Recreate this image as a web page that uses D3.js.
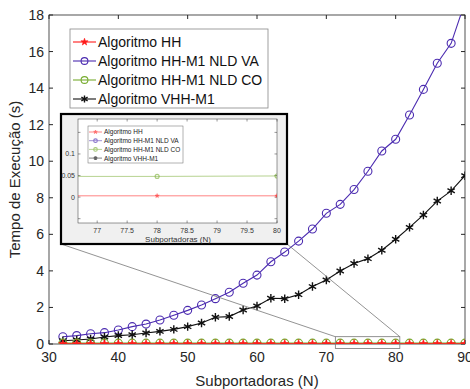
<!DOCTYPE html>
<html>
<head>
<meta charset="utf-8">
<script src="https://cdn.jsdelivr.net/npm/d3@7"></script>
<style>
  body { margin: 0; background: #fff; }
  svg { font-family: "Liberation Sans", Arial, sans-serif; }
</style>
</head>
<body>
<div id="chart"></div>
<script>
// subcarriers N = 32, 34, ..., 90
const subcarriers = [32,34,36,38,40,42,44,46,48,50,52,54,56,58,60,62,64,66,68,70,72,74,76,78,80,82,84,86,88,90];
const hhTime = [0.003,0.003,0.003,0.003,0.003,0.003,0.003,0.003,0.003,0.003,0.003,0.003,0.003,0.003,0.003,
  0.003,0.003,0.003,0.003,0.003,0.003,0.003,0.003,0.003,0.003,0.003,0.003,0.003,0.003,0.003];
const nldVaTime = [0.40,0.46,0.56,0.62,0.77,0.95,1.09,1.31,1.57,1.84,2.13,2.48,2.83,3.32,3.77,
  4.50,5.03,5.63,6.29,7.15,7.64,8.45,9.45,10.56,11.2,12.53,13.93,15.36,16.45,18.7];
const nldCoTime = [0.048,0.048,0.048,0.048,0.048,0.048,0.048,0.048,0.048,0.048,0.048,0.048,0.048,0.048,0.048,
  0.048,0.048,0.048,0.048,0.048,0.048,0.048,0.048,0.048,0.049,0.049,0.049,0.049,0.049,0.049];
const vhhTime = [0.18,0.22,0.27,0.38,0.46,0.51,0.60,0.69,0.80,0.95,1.15,1.46,1.50,1.86,2.08,
  2.50,2.48,2.70,3.14,3.50,3.99,4.41,4.67,5.13,5.73,6.38,7.06,7.82,8.38,9.21];

const xTicks = [30,40,50,60,70,80,90];
const yTicks = [0,2,4,6,8,10,12,14,16,18];
const insetXTicks = [77,77.5,78,78.5,79,79.5,80];
const insetYTicks = [-0.05,0,0.05,0.1,0.15];
const insetYLabels = [0,0.05,0.1];

const series = [
  { name: 'Algoritmo HH', values: hhTime, color: '#ff1a1a', marker: 'star' },
  { name: 'Algoritmo HH-M1 NLD VA', values: nldVaTime, color: '#4b2bb0', marker: 'circle' },
  { name: 'Algoritmo HH-M1 NLD CO', values: nldCoTime, color: '#77ac30', marker: 'circle' },
  { name: 'Algoritmo VHH-M1', values: vhhTime, color: '#111111', marker: 'asterisk' }
];
const drawOrder = [1, 3, 2, 0];

const width = 470, height = 389;
const margin = { top: 15, right: 4, bottom: 45, left: 49 };

const svg = d3.select('#chart').append('svg')
  .attr('width', width).attr('height', height);

const x = d3.scaleLinear().domain([30, 90]).range([margin.left, width - margin.right - 1]);
const y = d3.scaleLinear().domain([0, 18]).range([height - margin.bottom, margin.top]);

svg.append('defs').append('clipPath').attr('id', 'clipMain')
  .append('rect').attr('x', x(30)).attr('y', y(18))
  .attr('width', x(90) - x(30)).attr('height', y(0) - y(18));

function drawMarker(g, s, px, py, scale) {
  if (s.marker === 'circle') {
    g.append('circle').attr('cx', px).attr('cy', py).attr('r', 4 * scale)
      .attr('fill', 'none').attr('stroke', s.color).attr('stroke-width', 1.1);
  } else if (s.marker === 'star') {
    g.append('path').attr('transform', `translate(${px},${py})`)
      .attr('d', d3.symbol(d3.symbolStar, 22 * scale * scale)())
      .attr('fill', s.color).attr('stroke', s.color).attr('stroke-width', 0.6);
  } else {
    g.append('path').attr('transform', `translate(${px},${py})`)
      .attr('d', d3.symbol(d3.symbolAsterisk, 50 * scale * scale)())
      .attr('fill', 'none').attr('stroke', s.color).attr('stroke-width', 1.4);
  }
}

// axes box
const axisColor = '#262626';
svg.append('rect').attr('x', x(30)).attr('y', y(18))
  .attr('width', x(90) - x(30)).attr('height', y(0) - y(18))
  .attr('fill', 'none').attr('stroke', axisColor).attr('stroke-width', 0.8);

const tickLen = 4;
xTicks.forEach(t => {
  svg.append('line').attr('x1', x(t)).attr('x2', x(t)).attr('y1', y(0)).attr('y2', y(0) - tickLen).attr('stroke', axisColor);
  svg.append('line').attr('x1', x(t)).attr('x2', x(t)).attr('y1', y(18)).attr('y2', y(18) + tickLen).attr('stroke', axisColor);
  svg.append('text').attr('x', x(t)).attr('y', y(0) + 18).attr('text-anchor', 'middle')
    .attr('font-size', 14).attr('fill', axisColor).text(t);
});
yTicks.forEach(t => {
  svg.append('line').attr('x1', x(30)).attr('x2', x(30) + tickLen).attr('y1', y(t)).attr('y2', y(t)).attr('stroke', axisColor);
  svg.append('line').attr('x1', x(90)).attr('x2', x(90) - tickLen).attr('y1', y(t)).attr('y2', y(t)).attr('stroke', axisColor);
  svg.append('text').attr('x', x(30) - 5).attr('y', y(t) + 5).attr('text-anchor', 'end')
    .attr('font-size', 14).attr('fill', axisColor).text(t);
});

svg.append('text').attr('x', (x(30) + x(90)) / 2).attr('y', 386).attr('text-anchor', 'middle')
  .attr('font-size', 15).attr('fill', axisColor).text('Subportadoras (N)');
svg.append('text').attr('transform', `translate(20,${(y(0) + y(18)) / 2}) rotate(-90)`)
  .attr('text-anchor', 'middle').attr('font-size', 15).attr('fill', axisColor)
  .text('Tempo de Execução (s)');

// series
const plot = svg.append('g').attr('clip-path', 'url(#clipMain)');
const line = d3.line().x((d, i) => x(subcarriers[i])).y(d => y(d));
drawOrder.forEach(k => {
  const s = series[k];
  plot.append('path').attr('d', line(s.values)).attr('fill', 'none')
    .attr('stroke', s.color).attr('stroke-width', s.marker === 'star' ? 1.6 : 1.1);
  s.values.forEach((v, i) => drawMarker(plot, s, x(subcarriers[i]), y(v), 1));
});

// zoom rectangle and connecting lines
const zoomRect = { x0: 71.3, x1: 80.6, y0: -0.25, y1: 0.4 };
const inset = { left: 61, top: 114, right: 287, bottom: 244 };
svg.append('rect').attr('x', x(zoomRect.x0)).attr('y', y(zoomRect.y1))
  .attr('width', x(zoomRect.x1) - x(zoomRect.x0)).attr('height', y(zoomRect.y0) - y(zoomRect.y1))
  .attr('fill', 'none').attr('stroke', '#777').attr('stroke-width', 0.8);
svg.append('line').attr('x1', inset.left).attr('y1', inset.bottom)
  .attr('x2', x(zoomRect.x0)).attr('y2', y(zoomRect.y1)).attr('stroke', '#777').attr('stroke-width', 0.8);
svg.append('line').attr('x1', inset.right).attr('y1', inset.bottom)
  .attr('x2', x(zoomRect.x1)).attr('y2', y(zoomRect.y1)).attr('stroke', '#777').attr('stroke-width', 0.8);

// main legend
const lg = svg.append('g');
lg.append('rect').attr('x', 70).attr('y', 29).attr('width', 198).attr('height', 79)
  .attr('fill', '#fff').attr('stroke', '#888').attr('stroke-width', 0.8);
series.forEach((s, i) => {
  const ly = 42 + i * 19;
  lg.append('line').attr('x1', 73).attr('x2', 96).attr('y1', ly).attr('y2', ly)
    .attr('stroke', s.color).attr('stroke-width', 1.1);
  drawMarker(lg, s, 84.5, ly, 0.85);
  lg.append('text').attr('x', 98).attr('y', ly + 5).attr('font-size', 14).attr('fill', '#111').text(s.name);
});

// inset
const ig = svg.append('g');
ig.append('rect').attr('x', inset.left).attr('y', inset.top)
  .attr('width', inset.right - inset.left).attr('height', inset.bottom - inset.top)
  .attr('fill', '#f0f0f0').attr('stroke', '#000').attr('stroke-width', 2.2);
const ix = d3.scaleLinear().domain([76.68, 80]).range([78, 277]);
const iy = d3.scaleLinear().domain([-0.06, 0.181]).range([223, 119]);
ig.append('defs').append('clipPath').attr('id', 'clipInset')
  .append('rect').attr('x', 78).attr('y', 119).attr('width', 199).attr('height', 104);
ig.append('rect').attr('x', 78).attr('y', 119).attr('width', 199).attr('height', 104)
  .attr('fill', '#fff').attr('stroke', '#333').attr('stroke-width', 0.5);
const iTick = 2.5;
insetXTicks.forEach(t => {
  ig.append('line').attr('x1', ix(t)).attr('x2', ix(t)).attr('y1', 223).attr('y2', 223 - iTick).attr('stroke', '#333').attr('stroke-width', 0.5);
  ig.append('line').attr('x1', ix(t)).attr('x2', ix(t)).attr('y1', 119).attr('y2', 119 + iTick).attr('stroke', '#333').attr('stroke-width', 0.5);
  ig.append('text').attr('x', ix(t)).attr('y', 233).attr('text-anchor', 'middle')
    .attr('font-size', 7).attr('fill', '#333').text(t);
});
insetYTicks.forEach(t => {
  ig.append('line').attr('x1', 78).attr('x2', 78 + iTick).attr('y1', iy(t)).attr('y2', iy(t)).attr('stroke', '#333').attr('stroke-width', 0.5);
  ig.append('line').attr('x1', 277).attr('x2', 277 - iTick).attr('y1', iy(t)).attr('y2', iy(t)).attr('stroke', '#333').attr('stroke-width', 0.5);
});
insetYLabels.forEach(t => {
  ig.append('text').attr('x', 75).attr('y', iy(t) + 2.5).attr('text-anchor', 'end')
    .attr('font-size', 7).attr('fill', '#333').text(t);
});
ig.append('text').attr('x', 178).attr('y', 242).attr('text-anchor', 'middle')
  .attr('font-size', 8).attr('fill', '#333').text('Subportadoras (N)');

const iplot = ig.append('g').attr('clip-path', 'url(#clipInset)');
const iline = d3.line().x((d, i) => ix(subcarriers[i])).y(d => iy(d));
[0, 2].forEach(k => {
  const s = series[k];
  iplot.append('path').attr('d', iline(s.values)).attr('fill', 'none')
    .attr('stroke', s.color).attr('stroke-opacity', 0.6).attr('stroke-width', 0.9);
  s.values.forEach((v, i) => {
    if (subcarriers[i] >= 76 && subcarriers[i] <= 80) {
      const g2 = iplot.append('g').attr('opacity', 0.6);
      drawMarker(g2, s, ix(subcarriers[i]), iy(v), 0.5);
    }
  });
});

// inset legend
const il = ig.append('g');
il.append('rect').attr('x', 88).attr('y', 126).attr('width', 95).attr('height', 37)
  .attr('fill', '#fff').attr('stroke', '#666').attr('stroke-width', 0.5);
series.forEach((s, i) => {
  const ly = 132 + i * 8.7;
  const g2 = il.append('g').attr('opacity', 0.65);
  g2.append('line').attr('x1', 89).attr('x2', 102).attr('y1', ly).attr('y2', ly)
    .attr('stroke', s.color).attr('stroke-width', 0.8);
  drawMarker(g2, s, 95.5, ly, 0.45);
  il.append('text').attr('x', 104).attr('y', ly + 2.4).attr('font-size', 6.5).attr('fill', '#222').text(s.name);
});
</script>
</body>
</html>
